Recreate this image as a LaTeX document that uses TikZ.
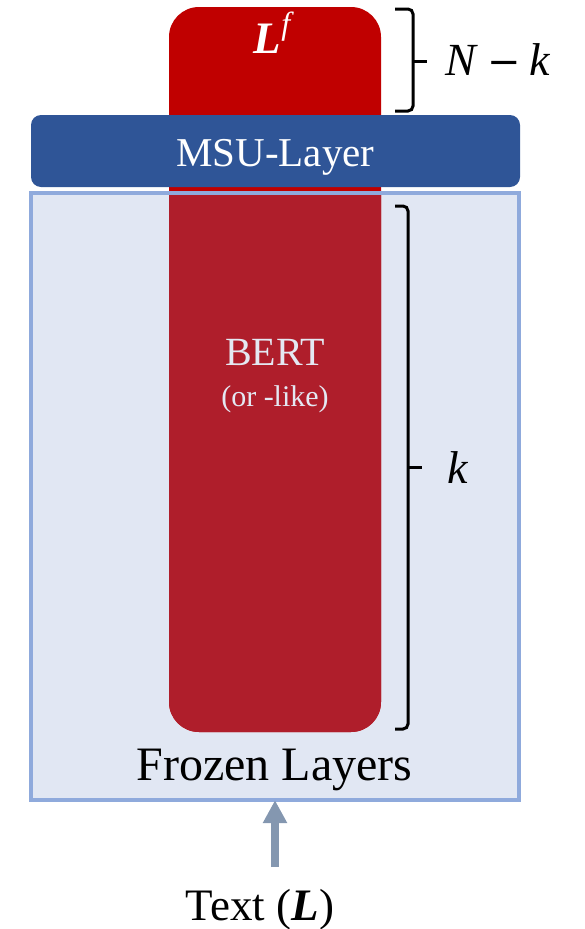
\documentclass[tikz,border=0pt]{standalone}
\usepackage{fontspec}
\setmainfont{Liberation Serif}
\newfontfamily\minusfont{DejaVu Serif}
\usetikzlibrary{arrows.meta}
\definecolor{topred}{HTML}{C00000}
\definecolor{bertred}{HTML}{AF1E2B}
\definecolor{frozenfill}{HTML}{E1E7F3}
\definecolor{frozenline}{HTML}{8FAADC}
\definecolor{msublue}{HTML}{2F5597}
\definecolor{arrowgray}{HTML}{8497B0}
\definecolor{bertfont}{HTML}{E4E8F2}
\tikzset{
  lbl/.style={inner sep=0pt, anchor=base},
  bracket/.style={line width=3pt, rounded corners=5pt},
}
\begin{document}
\begin{tikzpicture}[x=1pt, y=-1pt]
\useasboundingbox (0,0) rectangle (585,929);
% frozen block background
\fill[frozenfill] (31,193) rectangle (519,800);
% encoder column
\fill[topred, rounded corners=30pt] (169,7) rectangle (381,732);
\begin{scope}
  \clip (31,193) rectangle (519,800);
  \fill[bertred, rounded corners=30pt] (169,7) rectangle (381,732);
\end{scope}
\draw[frozenline, line width=4pt] (31,193) rectangle (519,800);
\node[inner sep=0pt, minimum width=488pt, minimum height=607pt] (frozen) at (275,496.5) {};
% MSU layer
\fill[msublue, rounded corners=10pt] (31,115) rectangle (520,187);
\node[lbl, text=white, font=\fontsize{41}{45}\selectfont] (msu) at (275.5,166) {MSU-Layer};
% labels in the column
\node[lbl, text=white, font=\fontsize{45}{48}\selectfont] (lf) at (274,53) {\textbf{\textit{L}}\raisebox{0.42em}{\fontsize{32}{34}\selectfont\textit{f}}};
\node[lbl, text=bertfont, font=\fontsize{40}{44}\selectfont] (bert) at (275,365) {BERT};
\node[lbl, text=bertfont, font=\fontsize{30}{34}\selectfont] (like) at (275,406) {(or -like)};
\node[lbl, font=\fontsize{48}{52}\selectfont] (frozentxt) at (274.5,780) {Frozen Layers};
% input
\node[lbl, font=\fontsize{45}{50}\selectfont] (text) at (260,920) {Text (\textbf{\textit{L}})};
\coordinate (intop) at (275,867);
\draw[arrowgray, line width=8pt, -{Triangle[width=23pt,length=23pt]}] (intop) -- (frozen.south);
% brackets
\coordinate (b1a) at (395,9);
\coordinate (b1b) at (395,111);
\coordinate (b1m) at (413,61);
\coordinate (b1t) at (427,61);
\draw[bracket] (b1a) -- (413,9) -- (413,111) -- (b1b);
\draw[line width=3pt] (b1m) -- (b1t);
\node[lbl, font=\fontsize{46}{50}\selectfont] (nk) at (498,75) {\textit{N}\hspace{0.2em}{\minusfont\fontsize{40}{44}\selectfont −}\hspace{0.2em}\textit{k}};
\coordinate (b2a) at (395,206);
\coordinate (b2b) at (395,729);
\coordinate (b2m) at (408,467);
\coordinate (b2t) at (422,467);
\draw[bracket] (b2a) -- (408,206) -- (408,729) -- (b2b);
\draw[line width=3pt] (b2m) -- (b2t);
\node[lbl, font=\fontsize{46}{50}\selectfont] (k) at (458,483) {\textit{k}};
\end{tikzpicture}
\end{document}
